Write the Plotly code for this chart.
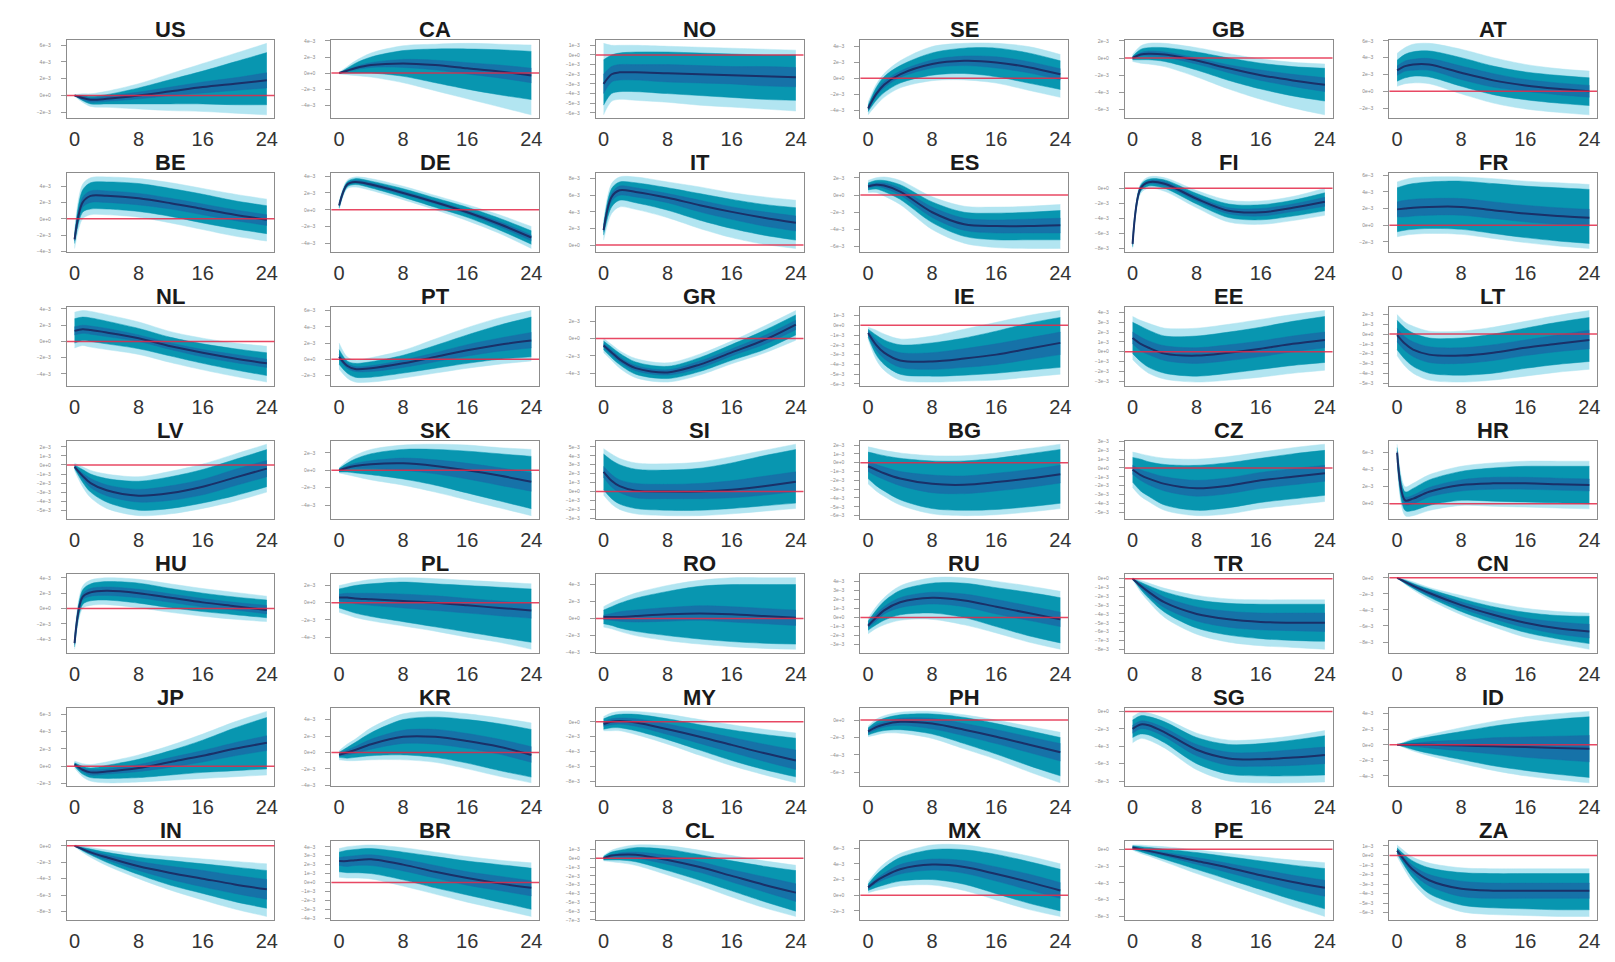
import plotly.graph_objects as go

# Impulse responses by country: posterior median with three credible bands,
# read at selected horizons (quarters). Values in units of 1e-4.
COUNTRIES = ["US", "CA", "NO", "SE", "GB", "AT",
             "BE", "DE", "IT", "ES", "FI", "FR",
             "NL", "PT", "GR", "IE", "EE", "LT",
             "LV", "SK", "SI", "BG", "CZ", "HR",
             "HU", "PL", "RO", "RU", "TR", "CN",
             "JP", "KR", "MY", "PH", "SG", "ID",
             "IN", "BR", "CL", "MX", "PE", "ZA"]
HORIZONS = [0, 1, 2, 4, 8, 12, 16, 20, 24]
X_TICKS = [0, 8, 16, 24]
UNIT = 1e-4

MEDIAN = {
    "US": [0, -3, -5, -4, 0, 5, 10, 14, 18],
    "CA": [0, 3, 6, 10, 12, 10, 6, 2, -3],
    "NO": [-30, -20, -18, -18, -19, -20, -21, -22, -23],
    "SE": [-38, -20, -8, 5, 18, 22, 20, 14, 5],
    "GB": [0, 4, 5, 4, -3, -12, -20, -26, -31],
    "AT": [25, 30, 32, 32, 22, 13, 7, 3, 0],
    "BE": [-25, 20, 28, 28, 25, 19, 12, 5, -1],
    "DE": [5, 30, 33, 30, 20, 9, -3, -17, -33],
    "IT": [18, 58, 66, 64, 57, 48, 40, 33, 27],
    "ES": [10, 12, 11, 4, -20, -34, -36, -36, -35],
    "FI": [-74, 0, 8, 6, -14, -30, -32, -26, -18],
    "FR": [19, 20, 21, 22, 22, 18, 14, 11, 9],
    "NL": [13, 15, 14, 11, 4, -6, -14, -21, -27],
    "PT": [3, -8, -12, -11, -5, 3, 11, 18, 23],
    "GR": [-8, -16, -24, -34, -39, -30, -16, -2, 16],
    "IE": [-8, -20, -28, -36, -37, -34, -30, -24, -18],
    "EE": [14, 8, 4, -2, -4, -1, 3, 8, 12],
    "LT": [-1, -10, -16, -21, -22, -19, -14, -10, -6],
    "LV": [-2, -12, -20, -28, -34, -31, -24, -14, -4],
    "SK": [0, 3, 5, 7, 8, 5, 0, -6, -13],
    "SI": [22, 12, 6, 1, 0, 0, 2, 6, 11],
    "BG": [-4, -8, -12, -18, -24, -25, -22, -18, -13],
    "CZ": [-2, -8, -12, -18, -23, -20, -14, -10, -6],
    "HR": [60, 4, 6, 14, 22, 24, 24, 23, 22],
    "HU": [-45, 15, 21, 23, 20, 14, 8, 3, -2],
    "PL": [6, 6, 5, 4, 2, 0, -3, -6, -9],
    "RO": [2, 2, 2, 3, 5, 6, 5, 3, 1],
    "RU": [-9, 0, 8, 17, 22, 19, 12, 5, -2],
    "TR": [0, -8, -15, -27, -40, -46, -49, -50, -50],
    "CN": [0, -5, -10, -19, -34, -46, -56, -63, -67],
    "JP": [2, -4, -7, -6, -2, 5, 12, 20, 27],
    "KR": [-3, 0, 3, 10, 19, 19, 14, 7, -3],
    "MY": [-3, 0, 1, -1, -10, -20, -31, -42, -52],
    "PH": [-13, -8, -5, -2, -4, -11, -19, -28, -37],
    "SG": [-20, -15, -16, -24, -44, -54, -55, -53, -50],
    "ID": [0, 0, 0, 0, -1, -2, -3, -4, -5],
    "IN": [0, -4, -8, -14, -25, -33, -40, -47, -53],
    "BR": [24, 24, 25, 26, 20, 12, 5, -1, -6],
    "CL": [0, 3, 4, 4, -2, -10, -20, -30, -39],
    "MX": [10, 18, 24, 33, 39, 36, 27, 17, 6],
    "PE": [2, 0, -2, -6, -14, -22, -31, -39, -46],
    "ZA": [5, -6, -15, -26, -35, -37, -37, -37, -37],
}

INNER_LO = {
    "US": [0, -5, -8, -7, -4, 0, 3, 6, 9],
    "CA": [0, 2, 4, 7, 7, 4, -1, -6, -12],
    "NO": [-40, -28, -26, -26, -28, -29, -30, -32, -33],
    "SE": [-40, -23, -12, 1, 13, 16, 13, 7, -2],
    "GB": [-1, 2, 2, 1, -7, -17, -26, -33, -39],
    "AT": [19, 24, 25, 25, 14, 5, 0, -4, -7],
    "BE": [-27, 14, 20, 20, 17, 12, 5, -2, -8],
    "DE": [4, 29, 32, 28, 18, 7, -5, -20, -37],
    "IT": [16, 53, 60, 58, 51, 40, 31, 23, 17],
    "ES": [8, 10, 8, 0, -26, -41, -44, -44, -44],
    "FI": [-76, -2, 6, 3, -17, -34, -37, -31, -24],
    "FR": [10, 10, 11, 12, 12, 8, 4, 1, -1],
    "NL": [8, 10, 9, 6, 0, -10, -19, -26, -32],
    "PT": [0, -11, -15, -15, -10, -3, 4, 10, 14],
    "GR": [-10, -19, -27, -37, -42, -34, -20, -7, 10],
    "IE": [-10, -25, -34, -43, -45, -43, -40, -35, -30],
    "EE": [8, 1, -3, -9, -12, -9, -5, 0, 4],
    "LT": [-8, -17, -23, -29, -30, -27, -22, -18, -15],
    "LV": [-3, -15, -25, -34, -41, -39, -33, -23, -13],
    "SK": [-1, 1, 2, 2, 0, -4, -10, -17, -24],
    "SI": [16, 5, -1, -7, -8, -8, -7, -4, 0],
    "BG": [-10, -15, -19, -26, -34, -35, -32, -28, -23],
    "CZ": [-7, -14, -19, -26, -32, -29, -23, -19, -15],
    "HR": [58, -1, 0, 8, 15, 17, 17, 16, 15],
    "HU": [-47, 11, 16, 17, 14, 8, 2, -2, -7],
    "PL": [2, 1, -1, -3, -6, -9, -12, -15, -18],
    "RO": [-1, -2, -3, -4, -3, -2, -4, -6, -8],
    "RU": [-11, -4, 4, 11, 15, 12, 4, -3, -10],
    "TR": [0, -10, -19, -33, -48, -55, -58, -59, -60],
    "CN": [0, -6, -12, -22, -38, -51, -62, -70, -75],
    "JP": [1, -6, -10, -9, -6, -1, 5, 12, 18],
    "KR": [-4, -3, -1, 4, 11, 10, 5, -2, -12],
    "MY": [-6, -4, -3, -6, -17, -29, -41, -53, -64],
    "PH": [-15, -11, -8, -6, -10, -18, -27, -37, -47],
    "SG": [-25, -20, -21, -29, -51, -62, -63, -62, -60],
    "ID": [0, -1, -2, -4, -8, -12, -16, -19, -22],
    "IN": [0, -5, -10, -17, -30, -41, -50, -58, -65],
    "BR": [19, 18, 19, 19, 13, 5, -3, -9, -15],
    "CL": [-1, 1, 1, 0, -7, -16, -27, -38, -49],
    "MX": [8, 15, 20, 27, 32, 28, 18, 7, -4],
    "PE": [1, -1, -4, -8, -18, -28, -38, -48, -56],
    "ZA": [4, -9, -19, -32, -43, -45, -45, -45, -45],
}

INNER_HI = {
    "US": [0, -1, -3, -1, 4, 10, 16, 21, 27],
    "CA": [0, 4, 8, 13, 17, 16, 13, 10, 6],
    "NO": [-20, -12, -10, -10, -10, -11, -12, -12, -13],
    "SE": [-36, -17, -4, 9, 23, 28, 27, 21, 12],
    "GB": [1, 6, 8, 7, 0, -8, -14, -19, -23],
    "AT": [30, 36, 38, 39, 30, 21, 14, 10, 7],
    "BE": [-23, 26, 34, 34, 31, 25, 18, 11, 5],
    "DE": [6, 31, 35, 32, 22, 11, -1, -14, -30],
    "IT": [20, 62, 71, 69, 62, 54, 46, 40, 35],
    "ES": [12, 14, 14, 8, -14, -27, -29, -28, -27],
    "FI": [-72, 2, 10, 9, -11, -26, -27, -21, -12],
    "FR": [28, 30, 31, 32, 32, 28, 24, 21, 19],
    "NL": [18, 20, 19, 16, 8, -2, -10, -16, -22],
    "PT": [6, -5, -9, -8, -1, 8, 18, 26, 33],
    "GR": [-6, -13, -21, -31, -36, -26, -12, 3, 21],
    "IE": [-6, -15, -22, -28, -28, -24, -19, -13, -7],
    "EE": [20, 15, 11, 6, 4, 7, 11, 16, 20],
    "LT": [6, -3, -8, -13, -14, -11, -6, -1, 4],
    "LV": [-1, -9, -15, -22, -27, -23, -16, -5, 5],
    "SK": [1, 5, 8, 11, 14, 12, 8, 3, -3],
    "SI": [28, 19, 13, 9, 8, 9, 12, 17, 22],
    "BG": [2, -2, -5, -10, -14, -15, -12, -8, -3],
    "CZ": [3, -2, -5, -10, -14, -11, -5, -1, 3],
    "HR": [62, 8, 10, 19, 28, 31, 31, 30, 29],
    "HU": [-43, 19, 26, 28, 25, 19, 13, 8, 4],
    "PL": [10, 11, 11, 11, 10, 8, 5, 2, -1],
    "RO": [4, 6, 8, 10, 13, 15, 14, 12, 10],
    "RU": [-7, 4, 12, 22, 28, 26, 20, 13, 6],
    "TR": [0, -6, -11, -21, -32, -37, -39, -39, -39],
    "CN": [0, -4, -8, -16, -30, -41, -50, -55, -58],
    "JP": [3, -2, -4, -3, 2, 10, 18, 27, 35],
    "KR": [-2, 3, 7, 16, 27, 28, 23, 16, 7],
    "MY": [0, 4, 5, 4, -3, -12, -21, -30, -38],
    "PH": [-11, -5, -2, 2, 2, -4, -11, -19, -27],
    "SG": [-16, -11, -12, -19, -38, -47, -47, -44, -41],
    "ID": [0, 1, 2, 4, 6, 9, 10, 11, 12],
    "IN": [0, -3, -6, -11, -19, -25, -30, -36, -41],
    "BR": [28, 29, 30, 31, 26, 19, 12, 7, 2],
    "CL": [1, 4, 6, 7, 3, -4, -13, -21, -29],
    "MX": [12, 21, 28, 39, 46, 44, 36, 27, 16],
    "PE": [3, 1, -1, -4, -10, -17, -24, -31, -37],
    "ZA": [6, -3, -11, -20, -27, -29, -29, -29, -29],
}

MID_LO = {
    "US": [0, -6, -10, -10, -10, -10, -10, -11, -11],
    "CA": [0, 0, 0, 0, -4, -12, -20, -27, -33],
    "NO": [-52, -40, -38, -38, -40, -42, -44, -46, -47],
    "SE": [-42, -28, -18, -6, 4, 6, 2, -6, -14],
    "GB": [-2, -2, -2, -4, -14, -26, -36, -44, -50],
    "AT": [12, 16, 18, 17, 6, -4, -10, -14, -17],
    "BE": [-30, 8, 12, 12, 9, 3, -5, -12, -18],
    "DE": [2, 27, 30, 26, 15, 3, -9, -24, -41],
    "IT": [12, 46, 54, 51, 42, 30, 20, 12, 6],
    "ES": [6, 7, 4, -5, -32, -48, -52, -52, -52],
    "FI": [-78, -4, 3, 0, -21, -39, -42, -37, -30],
    "FR": [-8, -6, -5, -4, -5, -10, -15, -19, -22],
    "NL": [-2, 1, 0, -3, -9, -18, -27, -35, -42],
    "PT": [-6, -17, -22, -22, -17, -11, -5, 0, 3],
    "GR": [-13, -22, -30, -41, -46, -38, -25, -13, 4],
    "IE": [-12, -30, -40, -50, -52, -51, -49, -46, -43],
    "EE": [-2, -10, -16, -22, -25, -22, -18, -14, -11],
    "LT": [-16, -26, -33, -40, -42, -40, -35, -31, -28],
    "LV": [-4, -19, -30, -41, -50, -48, -42, -34, -24],
    "SK": [-2, -2, -3, -5, -10, -17, -26, -35, -44],
    "SI": [2, -8, -14, -19, -21, -21, -19, -16, -13],
    "BG": [-18, -26, -32, -42, -52, -54, -53, -50, -46],
    "CZ": [-16, -26, -32, -42, -48, -45, -39, -35, -31],
    "HR": [54, -8, -8, -2, 4, 3, 2, 1, 0],
    "HU": [-50, 5, 10, 11, 7, 1, -4, -8, -12],
    "PL": [-6, -9, -12, -16, -22, -28, -34, -40, -46],
    "RO": [-6, -8, -11, -15, -20, -24, -27, -29, -30],
    "RU": [-14, -8, -3, 3, 5, 0, -10, -20, -28],
    "TR": [0, -12, -22, -38, -56, -64, -68, -70, -71],
    "CN": [0, -7, -13, -24, -42, -56, -68, -76, -82],
    "JP": [0, -9, -13, -14, -13, -10, -7, -5, -3],
    "KR": [-6, -7, -6, -4, -3, -6, -13, -22, -30],
    "MY": [-10, -8, -8, -12, -24, -38, -52, -64, -74],
    "PH": [-17, -14, -12, -11, -16, -27, -39, -52, -64],
    "SG": [-30, -26, -27, -36, -60, -72, -74, -74, -73],
    "ID": [0, -3, -6, -11, -19, -27, -33, -38, -42],
    "IN": [0, -6, -11, -20, -35, -48, -58, -68, -76],
    "BR": [12, 11, 11, 10, 3, -6, -14, -22, -30],
    "CL": [-2, -2, -2, -4, -14, -25, -37, -49, -60],
    "MX": [6, 10, 13, 18, 20, 14, 2, -10, -20],
    "PE": [0, -3, -6, -12, -24, -36, -48, -60, -71],
    "ZA": [2, -12, -24, -40, -52, -55, -56, -57, -57],
}

MID_HI = {
    "US": [0, 0, -1, 1, 9, 19, 29, 40, 51],
    "CA": [0, 6, 12, 20, 28, 30, 30, 29, 27],
    "NO": [-5, 0, 2, 3, 3, 2, 1, 0, 0],
    "SE": [-34, -12, 2, 16, 32, 38, 38, 32, 22],
    "GB": [2, 10, 12, 12, 7, 0, -6, -10, -12],
    "AT": [37, 44, 47, 48, 40, 30, 23, 19, 16],
    "BE": [-20, 35, 44, 45, 43, 37, 30, 22, 16],
    "DE": [8, 33, 37, 34, 25, 14, 3, -10, -25],
    "IT": [24, 68, 76, 75, 69, 62, 55, 49, 45],
    "ES": [14, 17, 17, 12, -8, -20, -21, -20, -18],
    "FI": [-70, 4, 12, 11, -7, -21, -22, -16, -6],
    "FR": [45, 48, 50, 52, 53, 50, 47, 45, 43],
    "NL": [28, 30, 29, 25, 16, 5, -3, -9, -14],
    "PT": [12, -2, -5, -3, 5, 17, 30, 42, 52],
    "GR": [-3, -10, -17, -27, -32, -22, -7, 9, 27],
    "IE": [-4, -10, -15, -20, -18, -13, -6, 2, 8],
    "EE": [30, 26, 22, 16, 16, 20, 25, 31, 36],
    "LT": [14, 6, 1, -4, -4, 0, 6, 12, 17],
    "LV": [0, -5, -10, -15, -18, -13, -5, 6, 17],
    "SK": [2, 8, 13, 19, 24, 24, 22, 19, 16],
    "SI": [42, 35, 30, 25, 24, 26, 32, 40, 47],
    "BG": [12, 10, 8, 5, 2, 2, 5, 10, 15],
    "CZ": [12, 10, 7, 4, 3, 6, 11, 16, 20],
    "HR": [66, 14, 18, 28, 38, 42, 44, 44, 44],
    "HU": [-40, 24, 32, 35, 33, 26, 20, 15, 11],
    "PL": [16, 18, 20, 22, 24, 22, 20, 18, 16],
    "RO": [10, 14, 18, 24, 32, 38, 40, 40, 40],
    "RU": [-4, 8, 18, 30, 38, 38, 33, 28, 22],
    "TR": [0, -4, -8, -15, -24, -28, -29, -29, -29],
    "CN": [0, -3, -7, -14, -26, -36, -43, -47, -48],
    "JP": [4, 0, -2, 1, 8, 18, 30, 44, 56],
    "KR": [0, 6, 12, 24, 40, 43, 40, 35, 28],
    "MY": [4, 8, 10, 10, 4, -4, -11, -17, -22],
    "PH": [-9, -2, 2, 6, 7, 3, -4, -12, -20],
    "SG": [-10, -5, -6, -12, -30, -38, -37, -33, -28],
    "ID": [0, 3, 6, 10, 17, 24, 29, 33, 36],
    "IN": [0, -2, -4, -8, -14, -18, -22, -26, -30],
    "BR": [34, 36, 37, 38, 34, 29, 24, 20, 16],
    "CL": [2, 7, 9, 12, 10, 4, -3, -9, -14],
    "MX": [14, 26, 35, 48, 58, 58, 52, 43, 33],
    "PE": [4, 3, 2, 0, -4, -9, -14, -19, -23],
    "ZA": [8, 0, -6, -13, -18, -19, -19, -19, -19],
}

OUTER_LO = {
    "US": [-1, -8, -13, -14, -16, -18, -19, -21, -23],
    "CA": [-1, -2, -3, -5, -12, -22, -32, -42, -52],
    "NO": [-62, -48, -46, -47, -49, -52, -54, -56, -58],
    "SE": [-46, -34, -24, -12, -3, -2, -6, -15, -24],
    "GB": [-4, -6, -7, -10, -22, -36, -48, -58, -66],
    "AT": [6, 9, 10, 9, -3, -14, -21, -25, -28],
    "BE": [-36, 0, 5, 5, 2, -5, -13, -21, -27],
    "DE": [0, 25, 27, 23, 12, 0, -13, -28, -46],
    "IT": [6, 38, 46, 43, 33, 20, 9, 1, -4],
    "ES": [3, 3, -1, -11, -40, -56, -61, -62, -62],
    "FI": [-80, -7, 0, -4, -26, -45, -48, -43, -36],
    "FR": [-14, -12, -11, -10, -11, -16, -21, -25, -28],
    "NL": [-8, -5, -7, -10, -16, -26, -35, -43, -50],
    "PT": [-12, -23, -28, -28, -23, -17, -11, -6, -2],
    "GR": [-16, -25, -34, -45, -50, -42, -29, -17, -2],
    "IE": [-14, -35, -46, -56, -58, -57, -56, -53, -50],
    "EE": [-8, -16, -22, -28, -31, -29, -26, -22, -19],
    "LT": [-22, -33, -40, -47, -49, -47, -43, -39, -36],
    "LV": [-6, -24, -36, -48, -56, -54, -48, -40, -30],
    "SK": [-3, -5, -7, -11, -17, -25, -34, -43, -52],
    "SI": [-4, -14, -20, -25, -27, -27, -25, -22, -19],
    "BG": [-24, -32, -38, -48, -58, -60, -59, -56, -52],
    "CZ": [-22, -32, -38, -48, -54, -52, -46, -42, -38],
    "HR": [50, -14, -14, -8, -2, -3, -4, -5, -6],
    "HU": [-53, 0, 4, 5, 1, -5, -10, -14, -17],
    "PL": [-11, -14, -17, -21, -27, -33, -40, -46, -54],
    "RO": [-10, -12, -15, -20, -26, -30, -33, -35, -36],
    "RU": [-18, -12, -8, -3, -2, -8, -17, -27, -35],
    "TR": [-1, -15, -26, -44, -63, -72, -76, -78, -80],
    "CN": [0, -8, -15, -27, -46, -61, -74, -82, -89],
    "JP": [-2, -12, -17, -19, -18, -16, -14, -12, -10],
    "KR": [-9, -10, -10, -9, -9, -12, -20, -29, -37],
    "MY": [-12, -12, -12, -17, -30, -45, -59, -71, -82],
    "PH": [-19, -17, -15, -15, -21, -33, -45, -59, -72],
    "SG": [-36, -31, -33, -42, -67, -80, -82, -82, -81],
    "ID": [0, -4, -8, -14, -24, -33, -40, -45, -49],
    "IN": [-1, -8, -14, -24, -40, -54, -66, -77, -86],
    "BR": [6, 5, 5, 4, -4, -13, -22, -30, -38],
    "CL": [-3, -4, -5, -8, -19, -31, -44, -56, -66],
    "MX": [3, 6, 8, 12, 13, 6, -6, -18, -27],
    "PE": [-1, -5, -8, -15, -29, -42, -55, -68, -80],
    "ZA": [-1, -16, -29, -46, -59, -62, -63, -64, -64],
}

OUTER_HI = {
    "US": [1, 2, 2, 5, 14, 26, 38, 50, 62],
    "CA": [1, 8, 15, 25, 34, 36, 37, 36, 35],
    "NO": [12, 10, 10, 10, 9, 8, 7, 6, 5],
    "SE": [-30, -8, 6, 22, 40, 44, 44, 40, 30],
    "GB": [4, 14, 17, 17, 12, 5, -1, -5, -7],
    "AT": [45, 52, 56, 57, 50, 40, 32, 27, 24],
    "BE": [-15, 42, 50, 51, 49, 44, 37, 30, 24],
    "DE": [10, 35, 39, 37, 28, 17, 6, -6, -20],
    "IT": [28, 74, 82, 82, 76, 70, 63, 58, 54],
    "ES": [17, 20, 21, 17, -2, -13, -14, -13, -11],
    "FI": [-68, 6, 15, 14, -3, -16, -17, -11, 0],
    "FR": [52, 55, 57, 58, 58, 56, 53, 51, 49],
    "NL": [36, 38, 37, 33, 24, 12, 4, -2, -6],
    "PT": [20, 3, -1, 2, 11, 25, 39, 51, 60],
    "GR": [0, -7, -14, -23, -28, -18, -3, 14, 32],
    "IE": [-2, -5, -9, -14, -11, -4, 3, 10, 15],
    "EE": [36, 32, 29, 24, 24, 28, 33, 38, 42],
    "LT": [20, 12, 8, 3, 3, 7, 13, 19, 24],
    "LV": [2, -2, -6, -10, -13, -7, 1, 12, 23],
    "SK": [3, 11, 17, 24, 29, 30, 29, 26, 24],
    "SI": [48, 42, 37, 32, 31, 33, 39, 46, 53],
    "BG": [18, 16, 14, 11, 8, 8, 11, 16, 21],
    "CZ": [18, 16, 14, 11, 10, 13, 18, 23, 27],
    "HR": [70, 20, 24, 34, 44, 48, 50, 50, 50],
    "HU": [-36, 29, 37, 40, 38, 32, 26, 21, 16],
    "PL": [20, 22, 24, 27, 29, 28, 26, 24, 22],
    "RO": [14, 19, 23, 30, 39, 45, 48, 48, 48],
    "RU": [-1, 12, 22, 35, 44, 44, 40, 35, 29],
    "TR": [1, -2, -5, -11, -19, -23, -24, -24, -24],
    "CN": [0, -2, -5, -12, -22, -31, -38, -42, -44],
    "JP": [6, 3, 2, 5, 13, 24, 37, 51, 63],
    "KR": [2, 10, 16, 30, 47, 50, 47, 42, 36],
    "MY": [7, 12, 14, 14, 10, 3, -4, -10, -15],
    "PH": [-7, 1, 5, 9, 10, 6, 0, -7, -14],
    "SG": [-6, -1, -2, -8, -25, -33, -32, -28, -22],
    "ID": [0, 4, 8, 13, 22, 30, 36, 40, 43],
    "IN": [1, 0, -2, -5, -10, -13, -16, -19, -22],
    "BR": [38, 40, 41, 42, 39, 34, 29, 25, 22],
    "CL": [3, 9, 12, 15, 14, 9, 3, -3, -8],
    "MX": [17, 30, 40, 53, 64, 64, 58, 50, 40],
    "PE": [5, 5, 4, 3, -1, -5, -9, -13, -16],
    "ZA": [11, 4, -2, -8, -13, -14, -14, -14, -14],
}

# Colours
OUTER_COLOR = "rgb(178, 229, 241)"
MID_COLOR = "rgb(8, 150, 176)"
INNER_COLOR = "rgb(22, 114, 168)"
MEDIAN_COLOR = "rgb(26, 48, 104)"
ZERO_COLOR = "rgba(228, 40, 72, 0.85)"
FRAME_COLOR = "#8c8c8c"

# Page geometry (pixels)
W, H = 1615, 962
NCOL = 6
LEFT0, COL_STEP, PANEL_W = 67, 265, 208
TOP0, ROW_STEP, PANEL_H = 38, 134.3, 79

fig = go.Figure()


def scaled(vals):
    return [v * UNIT for v in vals]


def band(lo, hi, color, xa, ya):
    fig.add_trace(go.Scatter(x=HORIZONS, y=scaled(lo), mode="lines",
                             line=dict(color=color, width=0.5, shape="spline", smoothing=0.9),
                             xaxis=xa, yaxis=ya, hoverinfo="skip", showlegend=False))
    fig.add_trace(go.Scatter(x=HORIZONS, y=scaled(hi), mode="lines", fill="tonexty",
                             fillcolor=color,
                             line=dict(color=color, width=0.5, shape="spline", smoothing=0.9),
                             xaxis=xa, yaxis=ya, hoverinfo="skip", showlegend=False))


for i, cc in enumerate(COUNTRIES):
    r, c = divmod(i, NCOL)
    n = i + 1
    xa = "x" if n == 1 else f"x{n}"
    ya = "y" if n == 1 else f"y{n}"

    band(OUTER_LO[cc], OUTER_HI[cc], OUTER_COLOR, xa, ya)
    band(MID_LO[cc], MID_HI[cc], MID_COLOR, xa, ya)
    band(INNER_LO[cc], INNER_HI[cc], INNER_COLOR, xa, ya)
    fig.add_trace(go.Scatter(x=HORIZONS, y=scaled(MEDIAN[cc]), mode="lines",
                             line=dict(color=MEDIAN_COLOR, width=2, shape="spline", smoothing=0.9),
                             xaxis=xa, yaxis=ya, hoverinfo="skip", showlegend=False))

    lo = min(min(OUTER_LO[cc]), 0) * UNIT
    hi = max(max(OUTER_HI[cc]), 0) * UNIT
    pad = 0.05 * (hi - lo)

    left = LEFT0 + c * COL_STEP
    top = TOP0 + r * ROW_STEP
    xdom = [left / W, (left + PANEL_W) / W]
    ydom = [1 - (top + PANEL_H) / H, 1 - top / H]

    fig.layout[f"xaxis{'' if n == 1 else n}"] = dict(
        domain=xdom, anchor=ya, range=[-0.96, 24.96], tickvals=X_TICKS,
        ticks="outside", ticklen=3, tickcolor="rgba(0,0,0,0)",
        tickfont=dict(family="Liberation Sans, Arial, sans-serif", size=20, color="#333333"),
        showgrid=False, zeroline=False, showline=True, linecolor=FRAME_COLOR,
        linewidth=1, mirror=True, fixedrange=True)
    fig.layout[f"yaxis{'' if n == 1 else n}"] = dict(
        domain=ydom, anchor=xa, range=[lo - pad, hi + pad], nticks=9,
        tickformat=".0e", ticks="outside", ticklen=5, tickcolor="#9a9a9a",
        ticklabelstandoff=9,
        tickfont=dict(family="Liberation Sans, Arial, sans-serif", size=5, color="#8a8a8a"),
        showgrid=False, zeroline=False, showline=True, linecolor=FRAME_COLOR,
        linewidth=1, mirror=True, fixedrange=True)

    # zero reference line across the panel
    fig.add_shape(type="line", xref=f"{xa} domain", yref=ya, x0=0, x1=1, y0=0, y1=0,
                  line=dict(color=ZERO_COLOR, width=1.5), layer="above")

    fig.add_annotation(text=f"<b>{cc}</b>", x=(left + PANEL_W / 2) / W,
                       y=1 - (top + 4) / H, xref="paper", yref="paper",
                       xanchor="center", yanchor="bottom", showarrow=False,
                       font=dict(family="Liberation Sans, Arial, sans-serif", size=22,
                                 color="#1a1a1a"))

fig.update_layout(width=W, height=H, margin=dict(l=0, r=0, t=0, b=0),
                  paper_bgcolor="white", plot_bgcolor="white", showlegend=False)

fig.write_html("out.html", config={"displayModeBar": False})
